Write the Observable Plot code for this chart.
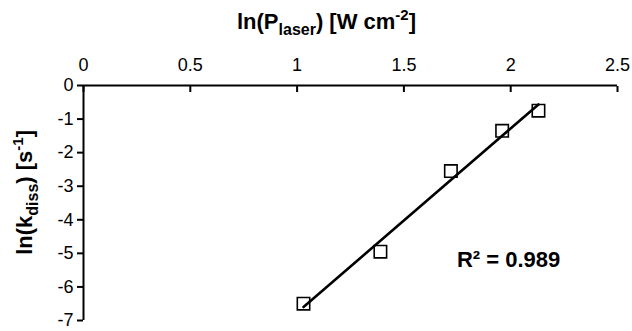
<!DOCTYPE html>
<html>
<head>
<meta charset="utf-8">
<script src="https://cdn.jsdelivr.net/npm/d3@7"></script>
<script src="https://cdn.jsdelivr.net/npm/@observablehq/plot@0.6"></script>
<style>
  html, body { margin: 0; padding: 0; background: #fff; }
  svg { display: block; }
</style>
</head>
<body>
<div id="chart"></div>
<script>
// ln(P_laser) [W cm^-2]
const lnP = [1.03, 1.39, 1.72, 1.96, 2.13];
// ln(k_diss) [s^-1]
const lnK = [-6.5, -4.95, -2.55, -1.35, -0.75];
const xTicks = [0, 0.5, 1, 1.5, 2, 2.5];
const yTicks = [0, -1, -2, -3, -4, -5, -6, -7];
const r2Label = ["R² = 0.989"];
const r2Pos = {x: 1.99, y: -5.2};

const data = lnP.map((x, i) => ({x, y: lnK[i]}));
const font = "Liberation Sans, Arial, sans-serif";

const chart = Plot.plot({
  width: 632,
  height: 331,
  marginTop: 85,
  marginLeft: 83,
  marginRight: 15,
  marginBottom: 11,
  style: {fontFamily: font, background: "#fff", color: "#000", overflow: "visible"},
  x: {domain: [0, 2.5]},
  y: {domain: [-7, 0]},
  marks: [
    Plot.axisX({anchor: "top", ticks: xTicks, tickSize: 6, dy: 6, fill: "none", strokeWidth: 2}),
    Plot.axisX({anchor: "top", ticks: xTicks, tickSize: 0, tickPadding: 15, fontSize: 18, tickFormat: d => String(d), label: null}),
    Plot.axisY({anchor: "left", ticks: yTicks, tickSize: 6, tickPadding: 4, fontSize: 18, strokeWidth: 2, tickFormat: d => String(d), label: null}),
    Plot.ruleY([0], {x1: 0, x2: 2.5, strokeWidth: 2}),
    Plot.ruleX([0], {y1: 0, y2: -7, strokeWidth: 2}),
    Plot.linearRegressionY(data, {x: "x", y: "y", ci: 0, stroke: "#000", strokeWidth: 2.6}),
    Plot.dot(data, {x: "x", y: "y", symbol: "square", r: 7, stroke: "#000", strokeWidth: 1.6, fill: "none"}),
    Plot.text(r2Label, {x: r2Pos.x, y: r2Pos.y, text: d => d, fontSize: 22, fontWeight: "bold", fill: "#000"})
  ]
});
document.getElementById("chart").appendChild(chart);

// Axis titles with sub/superscripts
const svg = d3.select(chart);
const xs = chart.scale("x"), ys = chart.scale("y");
const t1 = svg.append("text")
  .attr("x", xs.apply(1.14)).attr("y", 29)
  .attr("text-anchor", "middle")
  .attr("font-family", font).attr("font-weight", "bold").attr("font-size", 22).attr("fill", "#000");
t1.append("tspan").text("ln(P");
t1.append("tspan").attr("font-size", 16).attr("dy", 6).text("laser");
t1.append("tspan").attr("dy", -6).text(") [W cm");
t1.append("tspan").attr("font-size", 15).attr("dy", -9).text("-2");
t1.append("tspan").attr("dy", 9).text("]");

const cy = ys.apply(-3.2);
const t2 = svg.append("text")
  .attr("transform", `translate(32,${cy}) rotate(-90)`)
  .attr("text-anchor", "middle")
  .attr("font-family", font).attr("font-weight", "bold").attr("font-size", 22).attr("fill", "#000");
t2.append("tspan").text("ln(k");
t2.append("tspan").attr("font-size", 16).attr("dy", 6).text("diss");
t2.append("tspan").attr("dy", -6).text(") [s");
t2.append("tspan").attr("font-size", 15).attr("dy", -9).text("-1");
t2.append("tspan").attr("dy", 9).text("]");
</script>
</body>
</html>
